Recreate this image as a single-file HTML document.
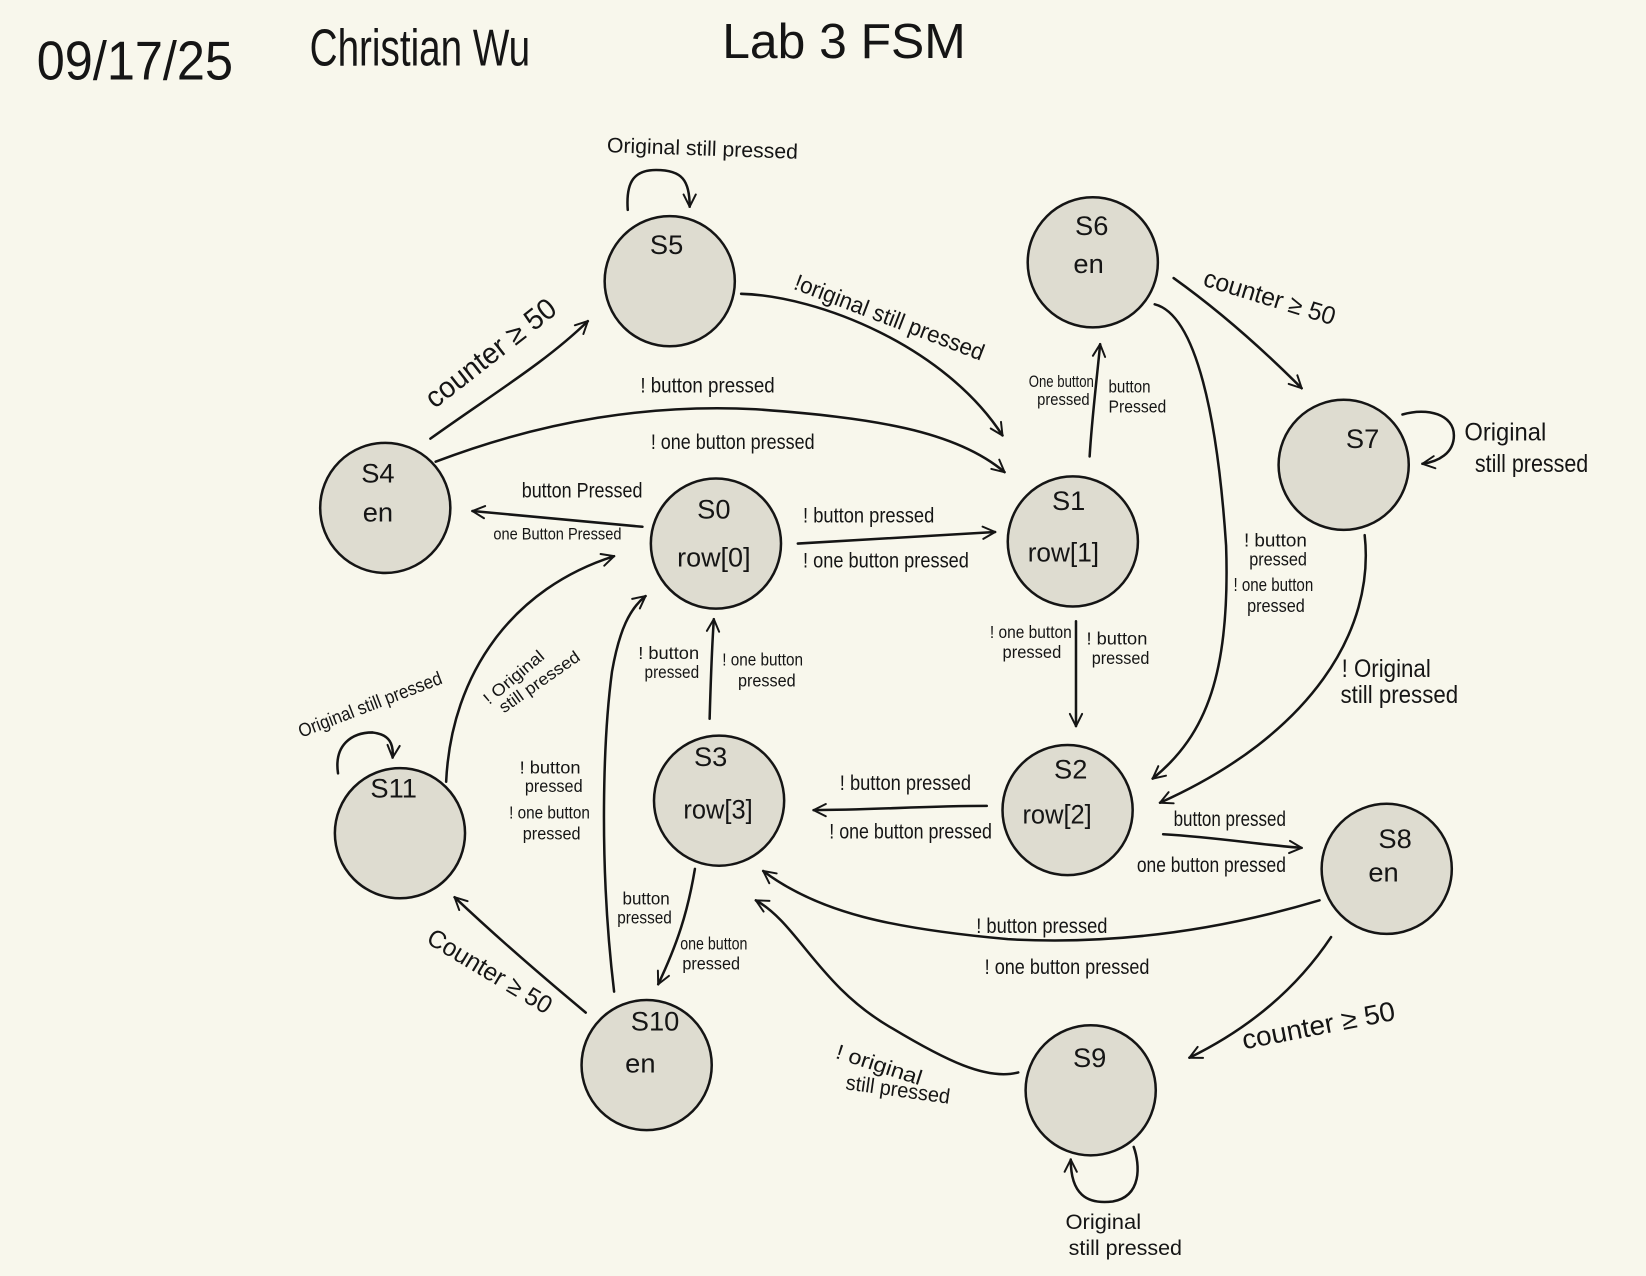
<!DOCTYPE html>
<html><head><meta charset="utf-8"><style>
html,body{margin:0;padding:0;background:#f8f7ec;}
svg{display:block;}
text{font-family:"Liberation Sans Narrow","Liberation Sans",sans-serif;fill:#151515;}
</style></head><body>
<svg width="1646" height="1276" viewBox="0 0 1568 1216" preserveAspectRatio="none" xmlns="http://www.w3.org/2000/svg">
<defs>
<marker id="a" viewBox="0 0 12 12" refX="11" refY="6" markerWidth="14" markerHeight="14" markerUnits="userSpaceOnUse" orient="auto">
<path d="M1,1 L11,6 L1,11" fill="none" stroke="#151515" stroke-width="1.6" stroke-linecap="round" stroke-linejoin="round"/>
</marker>
</defs>
<rect width="1568" height="1216" fill="#f8f7ec"/>

<!-- header -->
<g transform="scale(1,1.45)">
<text x="35" y="52.4" font-size="36" textLength="187" lengthAdjust="spacingAndGlyphs">09/17/25</text>
<text x="295" y="43" font-size="34" textLength="210" lengthAdjust="spacingAndGlyphs">Christian Wu</text>
<text x="688" y="38" font-size="32" textLength="232" lengthAdjust="spacingAndGlyphs">Lab 3 FSM</text>
</g>

<!-- edges -->
<g fill="none" stroke="#151515" stroke-width="2.4" stroke-linecap="round" marker-end="url(#a)">
<path d="M598,200 C596,172 605,162 625,162 C650,162 657,172 657,197"/>
<path d="M410,418 C470,375 520,345 560,306"/>
<path d="M706,280 C780,282 900,330 955,415"/>
<path d="M415,440 C520,400 620,385 720,390 C830,398 910,410 957,450"/>
<path d="M612,502 L450,487"/>
<path d="M760,518 L948,507"/>
<path d="M1038,435 C1040,400 1045,360 1048,328"/>
<path d="M1118,265 C1160,295 1200,330 1240,370"/>
<path d="M1336,395 C1360,388 1385,395 1385,415 C1385,432 1370,440 1355,442"/>
<path d="M1100,290 C1140,300 1160,400 1168,520 C1172,640 1150,700 1098,742"/>
<path d="M1300,510 C1310,600 1250,700 1105,765"/>
<path d="M1025,592 L1025,692"/>
<path d="M940,768 C880,768 830,772 775,772"/>
<path d="M1108,795 C1160,798 1200,805 1240,808"/>
<path d="M1257,858 C1150,890 1050,900 960,895 C850,885 780,870 727,830"/>
<path d="M1268,893 C1230,950 1180,985 1133,1008"/>
<path d="M1080,1093 C1086,1110 1088,1140 1060,1145 C1035,1148 1020,1138 1020,1105"/>
<path d="M970,1022 C940,1030 900,1010 850,980 C780,940 760,880 720,858"/>
<path d="M558,965 C510,925 470,890 433,855"/>
<path d="M662,828 C655,870 645,900 627,938"/>
<path d="M676,685 C677,650 678,620 680,590"/>
<path d="M585,945 C570,820 575,700 583,640 C590,600 600,580 615,568"/>
<path d="M425,745 C430,640 490,560 585,530"/>
<path d="M322,737 C318,710 335,698 355,698 C372,700 375,710 374,722"/>
</g>

<!-- nodes -->
<g fill="#dedcd0" stroke="#151515" stroke-width="2.4">
<circle cx="638" cy="268" r="62"/>
<circle cx="1041" cy="250" r="62"/>
<circle cx="1280" cy="443" r="62"/>
<circle cx="367" cy="484" r="62"/>
<circle cx="682" cy="518" r="62"/>
<circle cx="1022" cy="516" r="62"/>
<circle cx="381" cy="794" r="62"/>
<circle cx="685" cy="763" r="62"/>
<circle cx="1017" cy="772" r="62"/>
<circle cx="1321" cy="828" r="62"/>
<circle cx="616" cy="1015" r="62"/>
<circle cx="1039" cy="1039" r="62"/>
</g>

<!-- node labels -->
<g font-size="26" text-anchor="middle">
<text x="635" y="242">S5</text>
<text x="1040" y="224">S6</text>
<text x="1037" y="260">en</text>
<text x="1298" y="427">S7</text>
<text x="360" y="460">S4</text>
<text x="360" y="497">en</text>
<text x="680" y="494">S0</text>
<text x="680" y="540" textLength="70" lengthAdjust="spacingAndGlyphs">row[0]</text>
<text x="1018" y="486">S1</text>
<text x="1013" y="535" textLength="68" lengthAdjust="spacingAndGlyphs">row[1]</text>
<text x="375" y="760">S11</text>
<text x="677" y="730">S3</text>
<text x="684" y="780" textLength="66" lengthAdjust="spacingAndGlyphs">row[3]</text>
<text x="1020" y="742">S2</text>
<text x="1007" y="785" textLength="66" lengthAdjust="spacingAndGlyphs">row[2]</text>
<text x="1329" y="808">S8</text>
<text x="1318" y="840">en</text>
<text x="624" y="982">S10</text>
<text x="610" y="1022">en</text>
<text x="1038" y="1017">S9</text>
</g>

<!-- edge labels -->
<g font-size="20">
<text x="578" y="145" textLength="182" lengthAdjust="spacingAndGlyphs" transform="rotate(2 578 145)">Original still pressed</text>
<text x="0" y="0" font-size="28" textLength="150" lengthAdjust="spacingAndGlyphs" transform="translate(414,390) rotate(-38)">counter ≥ 50</text>
<text x="0" y="0" font-size="22" textLength="192" lengthAdjust="spacingAndGlyphs" transform="translate(755,275) rotate(21)">!original still pressed</text>
<text x="610" y="374" textLength="128" lengthAdjust="spacingAndGlyphs">! button pressed</text>
<text x="620" y="428" textLength="156" lengthAdjust="spacingAndGlyphs">! one button pressed</text>
<text x="497" y="474" textLength="115" lengthAdjust="spacingAndGlyphs">button Pressed</text>
<text x="470" y="514" font-size="16" textLength="122" lengthAdjust="spacingAndGlyphs">one Button Pressed</text>
<text x="765" y="498" textLength="125" lengthAdjust="spacingAndGlyphs">! button pressed</text>
<text x="765" y="541" textLength="158" lengthAdjust="spacingAndGlyphs">! one button pressed</text>
<text x="980" y="369" font-size="16" textLength="62" lengthAdjust="spacingAndGlyphs">One button</text>
<text x="988" y="386" font-size="16" textLength="50" lengthAdjust="spacingAndGlyphs">pressed</text>
<text x="1056" y="374" font-size="17" textLength="40" lengthAdjust="spacingAndGlyphs">button</text>
<text x="1056" y="393" font-size="17" textLength="55" lengthAdjust="spacingAndGlyphs">Pressed</text>
<text x="0" y="0" font-size="24" textLength="130" lengthAdjust="spacingAndGlyphs" transform="translate(1145,272) rotate(17)">counter ≥ 50</text>
<text x="1395" y="420" font-size="24" textLength="78" lengthAdjust="spacingAndGlyphs">Original</text>
<text x="1405" y="450" font-size="24" textLength="108" lengthAdjust="spacingAndGlyphs">still pressed</text>
<text x="1185" y="521" font-size="18" textLength="60" lengthAdjust="spacingAndGlyphs">! button</text>
<text x="1190" y="539" font-size="18" textLength="55" lengthAdjust="spacingAndGlyphs">pressed</text>
<text x="1175" y="563" font-size="18" textLength="76" lengthAdjust="spacingAndGlyphs">! one button</text>
<text x="1188" y="583" font-size="18" textLength="55" lengthAdjust="spacingAndGlyphs">pressed</text>
<text x="1278" y="645" font-size="24" textLength="85" lengthAdjust="spacingAndGlyphs">! Original</text>
<text x="1277" y="670" font-size="24" textLength="112" lengthAdjust="spacingAndGlyphs">still pressed</text>
<text x="943" y="608" font-size="17" textLength="78" lengthAdjust="spacingAndGlyphs">! one button</text>
<text x="955" y="627" font-size="17" textLength="56" lengthAdjust="spacingAndGlyphs">pressed</text>
<text x="1035" y="614" font-size="17" textLength="58" lengthAdjust="spacingAndGlyphs">! button</text>
<text x="1040" y="633" font-size="17" textLength="55" lengthAdjust="spacingAndGlyphs">pressed</text>
<text x="800" y="753" textLength="125" lengthAdjust="spacingAndGlyphs">! button pressed</text>
<text x="790" y="799" textLength="155" lengthAdjust="spacingAndGlyphs">! one button pressed</text>
<text x="1118" y="787" textLength="107" lengthAdjust="spacingAndGlyphs">button pressed</text>
<text x="1083" y="831" textLength="142" lengthAdjust="spacingAndGlyphs">one button pressed</text>
<text x="930" y="889" textLength="125" lengthAdjust="spacingAndGlyphs">! button pressed</text>
<text x="938" y="928" textLength="157" lengthAdjust="spacingAndGlyphs">! one button pressed</text>
<text x="0" y="0" font-size="26" textLength="148" lengthAdjust="spacingAndGlyphs" transform="translate(1185,1000) rotate(-11)">counter ≥ 50</text>
<text x="1015" y="1171" textLength="72" lengthAdjust="spacingAndGlyphs">Original</text>
<text x="1018" y="1196" textLength="108" lengthAdjust="spacingAndGlyphs">still pressed</text>
<text x="0" y="0" textLength="85" lengthAdjust="spacingAndGlyphs" transform="translate(795,1008) rotate(18)">! original</text>
<text x="0" y="0" textLength="100" lengthAdjust="spacingAndGlyphs" transform="translate(805,1038) rotate(8)">still pressed</text>
<text x="0" y="0" font-size="24" textLength="134" lengthAdjust="spacingAndGlyphs" transform="translate(405,898) rotate(31)">Counter ≥ 50</text>
<text x="593" y="862" font-size="17" textLength="45" lengthAdjust="spacingAndGlyphs">button</text>
<text x="588" y="880" font-size="17" textLength="52" lengthAdjust="spacingAndGlyphs">pressed</text>
<text x="648" y="905" font-size="17" textLength="64" lengthAdjust="spacingAndGlyphs">one button</text>
<text x="650" y="924" font-size="17" textLength="55" lengthAdjust="spacingAndGlyphs">pressed</text>
<text x="608" y="628" font-size="17" textLength="58" lengthAdjust="spacingAndGlyphs">! button</text>
<text x="614" y="646" font-size="17" textLength="52" lengthAdjust="spacingAndGlyphs">pressed</text>
<text x="688" y="634" font-size="17" textLength="77" lengthAdjust="spacingAndGlyphs">! one button</text>
<text x="703" y="654" font-size="17" textLength="55" lengthAdjust="spacingAndGlyphs">pressed</text>
<text x="495" y="737" font-size="17" textLength="58" lengthAdjust="spacingAndGlyphs">! button</text>
<text x="500" y="755" font-size="17" textLength="55" lengthAdjust="spacingAndGlyphs">pressed</text>
<text x="485" y="780" font-size="17" textLength="77" lengthAdjust="spacingAndGlyphs">! one button</text>
<text x="498" y="800" font-size="17" textLength="55" lengthAdjust="spacingAndGlyphs">pressed</text>
<text x="0" y="0" font-size="16" textLength="70" lengthAdjust="spacingAndGlyphs" transform="translate(466,672) rotate(-40)">! Original</text>
<text x="0" y="0" font-size="16" textLength="90" lengthAdjust="spacingAndGlyphs" transform="translate(480,680) rotate(-35)">still pressed</text>
<text x="0" y="0" font-size="18" textLength="145" lengthAdjust="spacingAndGlyphs" transform="translate(287,703) rotate(-21)">Original still pressed</text>
</g>
</svg>
</body></html>
